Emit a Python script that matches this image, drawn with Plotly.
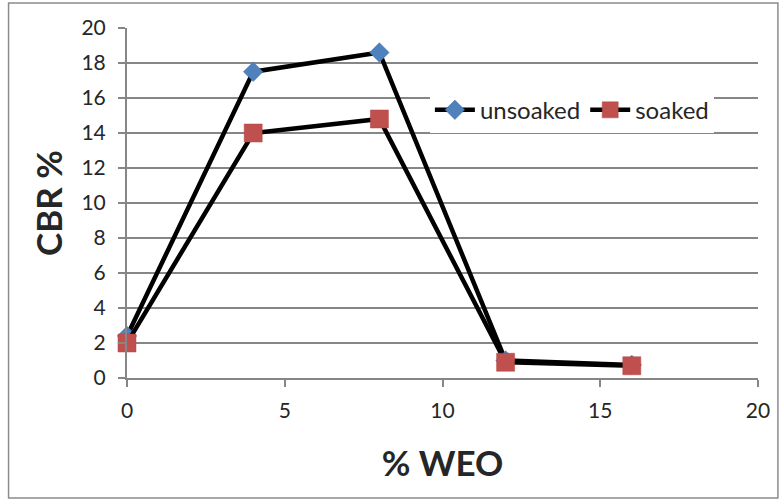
import plotly.graph_objects as go

# % WEO content and CBR values
weo = [0, 4, 8, 12, 16]
cbr_unsoaked = [2.4, 17.5, 18.6, 1.0, 0.75]
cbr_soaked = [2.0, 14.0, 14.8, 0.9, 0.7]

W, H = 782, 500
L, R, T, B = 127, 21, 28, 122

fig = go.Figure()
fig.add_trace(go.Scatter(
    x=weo, y=cbr_unsoaked, name="unsoaked", mode="lines+markers",
    cliponaxis=False,
    line=dict(color="black", width=4.5),
    marker=dict(symbol="diamond", size=15, color="#4F81BD",
                line=dict(color="#3F6FA8", width=0.5)),
))
fig.add_trace(go.Scatter(
    x=weo, y=cbr_soaked, name="soaked", mode="lines+markers",
    cliponaxis=False,
    line=dict(color="black", width=4.5),
    marker=dict(symbol="square", size=18, color="#C0504D",
                line=dict(color="#B04540", width=0.5)),
))

pw = W - L - R
ph = H - T - B
# outer chart frame
fig.add_shape(type="rect", xref="paper", yref="paper",
              x0=(8 - L) / pw, x1=(W - 1 - L) / pw,
              y0=-(H - 2 - T - ph) / ph, y1=1 + (T - 3) / ph,
              line=dict(color="#8C8C8C", width=1.5), layer="below")

font = "Lato, 'Open Sans', sans-serif"
fig.update_layout(
    width=W, height=H,
    margin=dict(l=L, r=R, t=T, b=B),
    paper_bgcolor="white", plot_bgcolor="white",
    font=dict(family=font, color="#262626", size=21),
    showlegend=True,
    legend=dict(orientation="h", x=0.48, y=0.765, xanchor="left", yanchor="middle",
                bgcolor="white", font=dict(size=24, color="#262626"),
                itemwidth=40, tracegroupgap=0),
    xaxis=dict(range=[0, 20], tickvals=[0, 5, 10, 15, 20], showgrid=False,
               showline=True, linecolor="#868686", linewidth=2,
               ticks="outside", ticklen=7, tickcolor="#868686", tickwidth=2,
               ticklabelstandoff=6, zeroline=False,
               title=dict(text="<b>% WEO</b>", font=dict(size=35, color="#262626"),
                          standoff=30)),
    yaxis=dict(range=[0, 20], tickvals=list(range(0, 21, 2)),
               showgrid=True, gridcolor="#868686", gridwidth=2,
               showline=True, linecolor="#868686", linewidth=2,
               ticks="outside", ticklen=7, tickcolor="#868686", tickwidth=2,
               ticklabelstandoff=8, zeroline=False,
               title=dict(text="<b>CBR %</b>", font=dict(size=35, color="#262626"),
                          standoff=8)),
)

fig.write_html("out.html")
